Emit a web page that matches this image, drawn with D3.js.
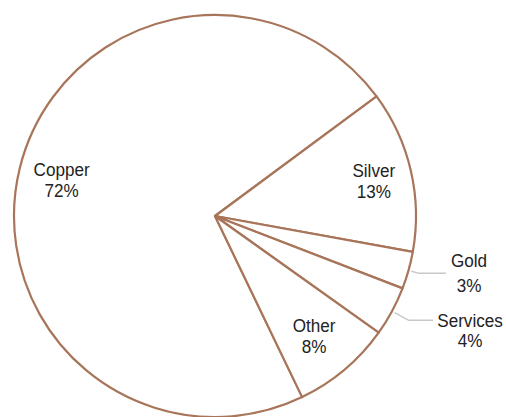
<!DOCTYPE html>
<html lang="en">
<head>
  <meta charset="UTF-8">
  <title>Revenue mix</title>
  <style>
    body { margin: 0; background: #fff; }
    #chart text { font-family: "Liberation Sans", Arial, sans-serif; font-size: 19px; fill: #222; }
  </style>
</head>
<body>
<div id="chart"></div>
<script src="https://d3js.org/d3.v7.min.js"></script>
<script>
// Data
const categories = ["Copper", "Silver", "Gold", "Services", "Other"];
const shares = [72, 13, 3, 4, 8];
const shareLabels = ["72%", "13%", "3%", "4%", "8%"];
const outside = ["Gold", "Services"];

const width = 506, height = 417;
const cx = 215, cy = 216, radius = 201;
const deg = Math.PI / 180;
const narrow = "scale(0.9,1)"; // fake a narrow face

// label layout
const insideR = { Copper: 158, Silver: 163, Other: 154 };
const outsideLayout = {
  Gold: { elbowR: 212, endX: 446, textX: 469, base1: 267, base2: 292 },
  Services: { elbowR: 220, endX: 433, textX: 470, base1: 327, base2: 347 }
};

const svg = d3.select("#chart").append("svg")
  .attr("width", width)
  .attr("height", height);

const g = svg.append("g").attr("transform", `translate(${cx},${cy})`);

const pie = d3.pie()
  .sort(null)
  .value(d => d.value)
  .startAngle(-205.7 * deg)
  .endAngle(154.3 * deg);

const arcs = pie(categories.map((c, i) => ({ name: c, value: shares[i], label: shareLabels[i] })));

const arc = d3.arc().innerRadius(0).outerRadius(radius);

g.selectAll("path.slice")
  .data(arcs)
  .enter().append("path")
  .attr("class", "slice")
  .attr("d", arc)
  .attr("fill", "#fff")
  .attr("stroke", "#a8755a")
  .attr("stroke-width", 2.2)
  .attr("stroke-linejoin", "round");

// inside labels
const inside = arcs.filter(d => !outside.includes(d.data.name));
const insideText = g.selectAll("g.inside")
  .data(inside)
  .enter().append("g")
  .attr("class", "inside")
  .attr("transform", d => {
    const r = insideR[d.data.name];
    const [x, y] = d3.arc().innerRadius(r).outerRadius(r).centroid(d);
    return `translate(${x},${y})`;
  })
  .append("text")
  .attr("text-anchor", "middle")
  .attr("transform", narrow);
insideText.append("tspan").attr("x", 0).attr("y", -2).text(d => d.data.name);
insideText.append("tspan").attr("x", 0).attr("y", 19).text(d => d.data.label);

// outside labels with leader lines
const outs = arcs.filter(d => outside.includes(d.data.name));
const pt = (a, r) => [r * Math.sin(a), -r * Math.cos(a)];

g.selectAll("polyline.leader")
  .data(outs)
  .enter().append("polyline")
  .attr("class", "leader")
  .attr("fill", "none")
  .attr("stroke", "#c8c8c8")
  .attr("stroke-width", 1.5)
  .attr("points", d => {
    const mid = (d.startAngle + d.endAngle) / 2;
    const lay = outsideLayout[d.data.name];
    const p0 = pt(mid, radius + 3);
    const p1 = pt(mid, lay.elbowR);
    const p2 = [lay.endX - cx, p1[1]];
    return [p0, p1, p2].map(p => p.join(",")).join(" ");
  });

const outText = svg.selectAll("g.outside")
  .data(outs)
  .enter().append("g")
  .attr("class", "outside")
  .attr("transform", d => `translate(${outsideLayout[d.data.name].textX},0)`)
  .append("text")
  .attr("text-anchor", "middle")
  .attr("transform", narrow);
outText.append("tspan")
  .attr("x", 0)
  .attr("y", d => outsideLayout[d.data.name].base1)
  .text(d => d.data.name);
outText.append("tspan")
  .attr("x", 0)
  .attr("y", d => outsideLayout[d.data.name].base2)
  .text(d => d.data.label);
</script>
</body>
</html>
